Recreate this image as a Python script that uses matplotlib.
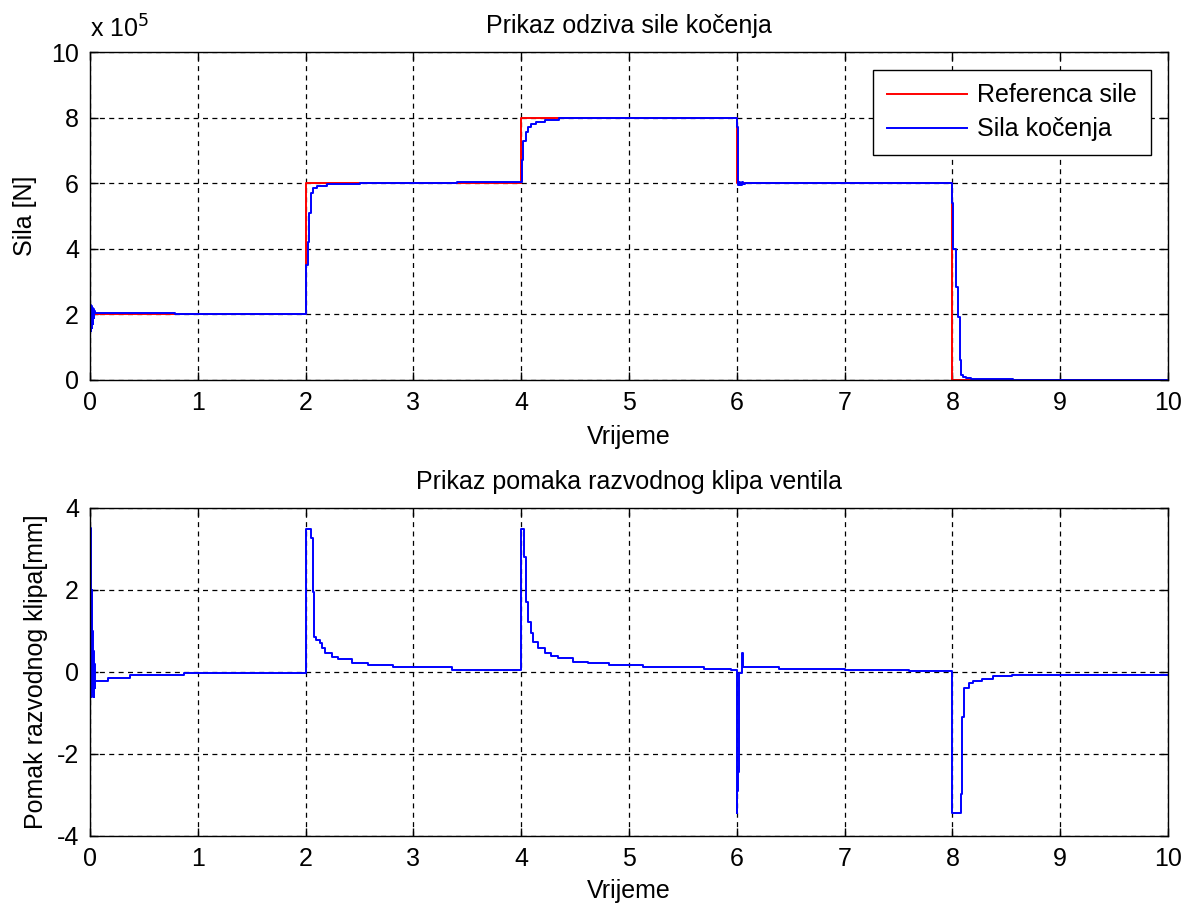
import numpy as np
import matplotlib.pyplot as plt
from matplotlib.ticker import FuncFormatter

plt.rcParams['font.family'] = ['Liberation Sans', 'DejaVu Sans']
plt.rcParams['axes.unicode_minus'] = False

# reference force [N] (step changes)
ref_t = [0, 2, 2, 4, 4, 6, 6, 8, 8, 10]
ref_f = [2e5, 2e5, 6e5, 6e5, 8e5, 8e5, 6e5, 6e5, 0, 0]

# braking force response [N], sampled (held between samples)
force_t = [0, 0.004, 0.008, 0.012, 0.016, 0.02, 0.025, 0.03, 0.035, 0.04, 0.05, 0.79,
           2.005, 2.02, 2.035, 2.05, 2.07, 2.11, 2.2, 2.35, 2.5, 3.4,
           4.003, 4.02, 4.04, 4.06, 4.09, 4.14, 4.22, 4.35, 4.5,
           6.0, 6.008, 6.02, 6.03, 6.045, 6.06, 6.08, 6.15, 6.5,
           8.0, 8.01, 8.03, 8.05, 8.068, 8.083, 8.1, 8.13, 8.17, 8.56, 10]
force_f = [0, 2.3e5, 1.5e5, 2.25e5, 1.6e5, 2.2e5, 1.7e5, 2.15e5, 1.9e5, 2.1e5, 2.05e5, 2.0e5,
           3.5e5, 4.2e5, 5.1e5, 5.7e5, 5.85e5, 5.92e5, 5.97e5, 5.99e5, 6.0e5, 6.05e5,
           6.7e5, 7.3e5, 7.57e5, 7.72e5, 7.8e5, 7.87e5, 7.93e5, 7.98e5, 8.0e5,
           7.7e5, 5.95e5, 6.05e5, 5.95e5, 6.03e5, 5.97e5, 6.02e5, 6.02e5, 6.0e5,
           5.4e5, 4.0e5, 2.85e5, 1.93e5, 0.61e5, 0.15e5, 0.10e5, 0.05e5, 0.03e5, 0.0, 0.0]

# valve spool displacement [mm]
spool_t = [0, 0.006, 0.01, 0.014, 0.018, 0.022, 0.026, 0.03, 0.035, 0.04, 0.045, 0.05,
           0.17, 0.37, 0.87,
           2.0, 2.05, 2.065, 2.08, 2.1, 2.13, 2.15, 2.18, 2.24, 2.30, 2.43, 2.58, 2.81, 3.36,
           4.0, 4.026, 4.04, 4.066, 4.09, 4.11, 4.16, 4.22, 4.28, 4.34, 4.48, 4.62, 4.81, 5.13,
           5.7, 5.95,
           6.0, 6.006, 6.012, 6.02, 6.05, 6.06, 6.08, 6.39, 7.0, 7.6,
           8.0, 8.08, 8.09, 8.11, 8.15, 8.19, 8.27, 8.38, 8.55, 10]
spool_x = [3.5, 3.0, -0.6, 2.0, -0.6, 1.0, -0.5, 0.5, -0.6, 0.2, -0.4, -0.21,
           -0.15, -0.07, -0.03,
           3.49, 3.26, 1.96, 0.86, 0.78, 0.70, 0.59, 0.46, 0.37, 0.31, 0.23, 0.18, 0.13, 0.05,
           3.49, 2.81, 1.71, 1.23, 0.94, 0.74, 0.58, 0.47, 0.39, 0.33, 0.25, 0.21, 0.17, 0.13,
           0.08, 0.05,
           -3.45, -2.9, -2.43, -0.03, 0.47, 0.13, 0.11, 0.065, 0.04, 0.02,
           -3.45, -2.98, -1.09, -0.40, -0.28, -0.21, -0.17, -0.11, -0.07, -0.07]

fs = 18
grid_kw = dict(color='black', linestyle=(0, (4, 3.5)), linewidth=0.9)

fig = plt.figure(figsize=(11.91, 9.06), dpi=100)
ax1 = fig.add_axes([0.0756, 0.5806, 0.9051, 0.362])
ax2 = fig.add_axes([0.0756, 0.0773, 0.9051, 0.362])

ax1.plot(ref_t, ref_f, color='red', lw=1.4, label='Referenca sile')
ax1.plot(force_t, force_f, color='blue', lw=1.4, drawstyle='steps-post', label='Sila kočenja')
ax1.set_xlim(0, 10)
ax1.set_ylim(0, 10e5)
ax1.set_yticks(np.arange(0, 10.1e5, 2e5))
ax1.yaxis.set_major_formatter(FuncFormatter(lambda v, p: '%g' % (v / 1e5)))
ax1.text(0, 1.03, 'x 10$^{5}$', transform=ax1.transAxes, fontsize=fs, ha='left', va='bottom')
ax1.set_title('Prikaz odziva sile kočenja', fontsize=fs, pad=14)
ax1.set_xlabel('Vrijeme', fontsize=fs, labelpad=7)
ax1.set_ylabel('Sila [N]', fontsize=fs, labelpad=10)
leg = ax1.legend(loc='upper right', fontsize=fs, fancybox=False, framealpha=1,
                 edgecolor='black', handlelength=3.2, handletextpad=0.4,
                 borderpad=0.55, labelspacing=0.4, borderaxespad=0.7)
leg.get_frame().set_linewidth(1.0)

ax2.plot(spool_t, spool_x, color='blue', lw=1.4, drawstyle='steps-post')
ax2.set_xlim(0, 10)
ax2.set_ylim(-4, 4)
ax2.set_yticks([-4, -2, 0, 2, 4])
ax2.set_title('Prikaz pomaka razvodnog klipa ventila', fontsize=fs, pad=14)
ax2.set_xlabel('Vrijeme', fontsize=fs, labelpad=6)
ax2.set_ylabel('Pomak razvodnog klipa[mm]', fontsize=fs, labelpad=6)

for ax in (ax1, ax2):
    ax.set_xticks(range(0, 11))
    ax.grid(True, **grid_kw)
    ax.tick_params(direction='in', top=True, right=True, labelsize=fs, length=6, width=1, pad=8)
    for s in ax.spines.values():
        s.set_linewidth(1.0)

fig.savefig('out.png', dpi=100)
